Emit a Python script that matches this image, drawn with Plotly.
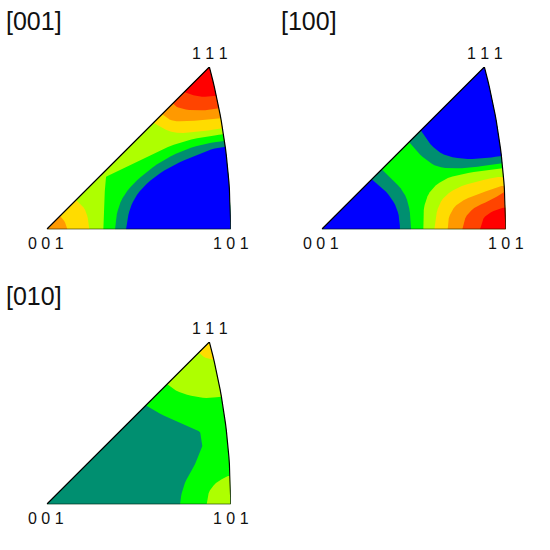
import math

import plotly.graph_objects as go

# =====================================================
# Data: contour lines
# x, y in triangle units (0 0 1 is at 0,0 and 1 0 1 at 552,0)
# a repeated point keeps a sharp corner in the line
# =====================================================

ZONE_GREEN = "#00ff00"
ZONE_LIME = "#aeff00"
ZONE_TEAL = "#008f70"
ZONE_BLUE = "#0000ff"
ZONE_GOLD = "#ffdc00"
ZONE_ORANGE = "#ff9900"
ZONE_DEEP = "#ff4400"
ZONE_RED = "#ff0000"

TITLES = ["[001]", "[100]", "[010]"]

# panel [001]
A_GOLD_X = [320, 380, 460, 527]
A_GOLD_Y = [320, 286, 293, 303]
A_ORANGE_X = [346, 365, 390, 450, 522]
A_ORANGE_Y = [346, 330, 323, 326, 333]
A_DEEP_X = [378, 390, 420, 470, 517]
A_DEEP_Y = [378, 366, 358, 356, 363]
A_RED_X = [412, 435, 470, 509]
A_RED_Y = [412, 403, 396, 401]
A_GREEN_X = [170, 172, 178, 178, 250, 320, 390, 460, 530]
A_GREEN_Y = [0, 88, 158, 158, 193, 228, 258, 276, 285]
A_TEAL_X = [205, 208, 222, 255, 300, 350, 410, 470, 532]
A_TEAL_Y = [0, 38, 88, 133, 173, 208, 238, 256, 265]
A_BLUE_X = [238, 243, 255, 280, 330, 390, 450, 500, 537]
A_BLUE_Y = [0, 38, 78, 118, 163, 198, 223, 243, 248]
A_LOW_GOLD_X = [88, 115, 125, 128]
A_LOW_GOLD_Y = [88, 63, 28, 0]
A_LOW_ORANGE_X = [40, 55, 62]
A_LOW_ORANGE_Y = [40, 23, 0]

# panel [100]
B_TOP_TEAL_X = [262, 290, 325, 360, 430, 490, 542]
B_TOP_TEAL_Y = [262, 228, 198, 183, 183, 191, 198]
B_TOP_BLUE_X = [297, 330, 370, 430, 490, 540]
B_TOP_BLUE_Y = [297, 248, 220, 210, 213, 220]
B_LOW_TEAL_X = [180, 215, 250, 265, 268]
B_LOW_TEAL_Y = [180, 148, 108, 58, 0]
B_LOW_BLUE_X = [150, 190, 220, 233, 235]
B_LOW_BLUE_Y = [150, 118, 78, 38, 0]
B_LIME_X = [305, 305, 325, 370, 430, 500, 543]
B_LIME_Y = [0, 68, 118, 153, 168, 178, 183]
B_GOLD_X = [338, 345, 365, 410, 480, 546]
B_GOLD_Y = [0, 58, 98, 128, 148, 160]
B_ORANGE_X = [378, 380, 405, 460, 548]
B_ORANGE_Y = [0, 38, 78, 103, 133]
B_DEEP_X = [422, 430, 460, 510, 549]
B_DEEP_Y = [0, 38, 68, 88, 113]
B_RED_X = [475, 485, 520, 551]
B_RED_Y = [0, 38, 58, 66]

# panel [010]
C_TEAL_X = [297, 330, 390, 460, 460, 468, 468, 450, 420, 405, 400]
C_TEAL_Y = [297, 276, 248, 218, 218, 178, 178, 128, 78, 38, 0]
C_TOP_LIME_X = [361, 390, 440, 485, 524]
C_TOP_LIME_Y = [361, 338, 323, 318, 323]
C_TOP_GOLD_X = [456, 472, 501]
C_TOP_GOLD_Y = [456, 440, 433]
C_LOW_LIME_X = [480, 485, 510, 550]
C_LOW_LIME_Y = [0, 38, 68, 88]

# =====================================================
# Triangle geometry
# =====================================================

BASE = 552
APEX = 487
SCALE = BASE / (math.sqrt(2) - 1)

WIDTH = 184
HEIGHT = APEX / 3
ORIGINS = [(46.7, 229.3), (321.7, 229.3), (46.7, 504.3)]


def arc_x(y):
    return SCALE * (math.sqrt(2 - (y / SCALE) ** 2) - 1)


def arc_points(y_from, y_to, steps=24):
    ys = [y_from + (y_to - y_from) * i / steps for i in range(steps + 1)]
    return [arc_x(y) for y in ys], ys


def soften(xs, ys, rounds=2):
    # corner cutting, the end points stay on the triangle edge
    for _ in range(rounds):
        nx, ny = [xs[0]], [ys[0]]
        for k in range(len(xs) - 1):
            nx += [0.75 * xs[k] + 0.25 * xs[k + 1], 0.25 * xs[k] + 0.75 * xs[k + 1]]
            ny += [0.75 * ys[k] + 0.25 * ys[k + 1], 0.25 * ys[k] + 0.75 * ys[k + 1]]
        nx.append(xs[-1])
        ny.append(ys[-1])
        xs, ys = nx, ny
    return xs, ys


def zone(xs, ys, close):
    # close along the arc, towards the 1 1 1 tip or the 1 0 1 corner
    if close is None:
        return xs, ys
    px, py = soften(xs, ys)
    if close == "tip":
        ax, ay = arc_points(ys[-1], APEX)
        px += ax
        py += ay
    elif close == "corner":
        ax, ay = arc_points(ys[-1], 0)
        px += ax
        py += ay
    elif close == "origin":
        px.append(0)
        py.append(0)
    return px, py


ax, ay = arc_points(0, APEX)
OUTLINE_X = [0] + ax + [0]
OUTLINE_Y = [0] + ay + [0]

PANELS = [
    [
        (OUTLINE_X, OUTLINE_Y, None, ZONE_LIME),
        (A_GOLD_X, A_GOLD_Y, "tip", ZONE_GOLD),
        (A_ORANGE_X, A_ORANGE_Y, "tip", ZONE_ORANGE),
        (A_DEEP_X, A_DEEP_Y, "tip", ZONE_DEEP),
        (A_RED_X, A_RED_Y, "tip", ZONE_RED),
        (A_LOW_GOLD_X, A_LOW_GOLD_Y, "origin", ZONE_GOLD),
        (A_LOW_ORANGE_X, A_LOW_ORANGE_Y, "origin", ZONE_ORANGE),
        (A_GREEN_X, A_GREEN_Y, "corner", ZONE_GREEN),
        (A_TEAL_X, A_TEAL_Y, "corner", ZONE_TEAL),
        (A_BLUE_X, A_BLUE_Y, "corner", ZONE_BLUE),
    ],
    [
        (OUTLINE_X, OUTLINE_Y, None, ZONE_GREEN),
        (B_TOP_TEAL_X, B_TOP_TEAL_Y, "tip", ZONE_TEAL),
        (B_TOP_BLUE_X, B_TOP_BLUE_Y, "tip", ZONE_BLUE),
        (B_LOW_TEAL_X, B_LOW_TEAL_Y, "origin", ZONE_TEAL),
        (B_LOW_BLUE_X, B_LOW_BLUE_Y, "origin", ZONE_BLUE),
        (B_LIME_X, B_LIME_Y, "corner", ZONE_LIME),
        (B_GOLD_X, B_GOLD_Y, "corner", ZONE_GOLD),
        (B_ORANGE_X, B_ORANGE_Y, "corner", ZONE_ORANGE),
        (B_DEEP_X, B_DEEP_Y, "corner", ZONE_DEEP),
        (B_RED_X, B_RED_Y, "corner", ZONE_RED),
    ],
    [
        (OUTLINE_X, OUTLINE_Y, None, ZONE_GREEN),
        (C_TEAL_X, C_TEAL_Y, "origin", ZONE_TEAL),
        (C_TOP_LIME_X, C_TOP_LIME_Y, "tip", ZONE_LIME),
        (C_TOP_GOLD_X, C_TOP_GOLD_Y, "tip", ZONE_GOLD),
        (C_LOW_LIME_X, C_LOW_LIME_Y, "corner", ZONE_LIME),
    ],
]

# =====================================================
# Figure
# =====================================================

FONT = "Liberation Sans"
fig = go.Figure()
layout = {}
annotations = []

for i, (panel, title, (ox, oy)) in enumerate(zip(PANELS, TITLES, ORIGINS)):
    suffix = "" if i == 0 else str(i + 1)
    xref, yref = "x" + suffix, "y" + suffix

    for xs, ys, close, colour in panel:
        px, py = zone(xs, ys, close)
        fig.add_trace(go.Scatter(
            x=px, y=py, xaxis=xref, yaxis=yref,
            mode="lines", line=dict(width=0, color=colour),
            fill="toself", fillcolor=colour,
            hoverinfo="skip", showlegend=False,
            cliponaxis=False,
        ))

    fig.add_trace(go.Scatter(
        x=OUTLINE_X, y=OUTLINE_Y, xaxis=xref, yaxis=yref,
        mode="lines", line=dict(width=1.2, color="black"),
        hoverinfo="skip", showlegend=False,
        cliponaxis=False,
    ))

    layout["xaxis" + suffix] = dict(
        domain=[ox / 550, (ox + WIDTH) / 550], range=[0, BASE],
        visible=False, anchor=yref,
    )
    layout["yaxis" + suffix] = dict(
        domain=[1 - oy / 550, 1 - (oy - HEIGHT) / 550], range=[0, APEX],
        visible=False, anchor=xref,
    )

    # corner labels sit outside the axis range, so they go on paper coordinates
    for text, dx, dy in [("0 0 1", -1, 14), ("1 0 1", 184, 14), ("1 1 1", 163, -176)]:
        annotations.append(dict(
            text=text, x=(ox + dx) / 550, y=1 - (oy + dy) / 550,
            xref="paper", yref="paper",
            showarrow=False, font=dict(family=FONT, size=16, color="#111111"),
            xanchor="center", yanchor="middle",
        ))

    annotations.append(dict(
        text=title, x=(ox - 43) / 550, y=1 - (oy - 208) / 550,
        xref="paper", yref="paper",
        showarrow=False, font=dict(family=FONT, size=25, color="#111111"),
        xanchor="left", yanchor="middle",
    ))

fig.update_layout(
    width=550, height=550,
    margin=dict(l=0, r=0, t=0, b=0),
    paper_bgcolor="white", plot_bgcolor="white",
    annotations=annotations,
    **layout,
)

fig.write_html(
    "out.html",
    config=dict(displayModeBar=False),
    post_script="document.body.style.margin='0';",
)
